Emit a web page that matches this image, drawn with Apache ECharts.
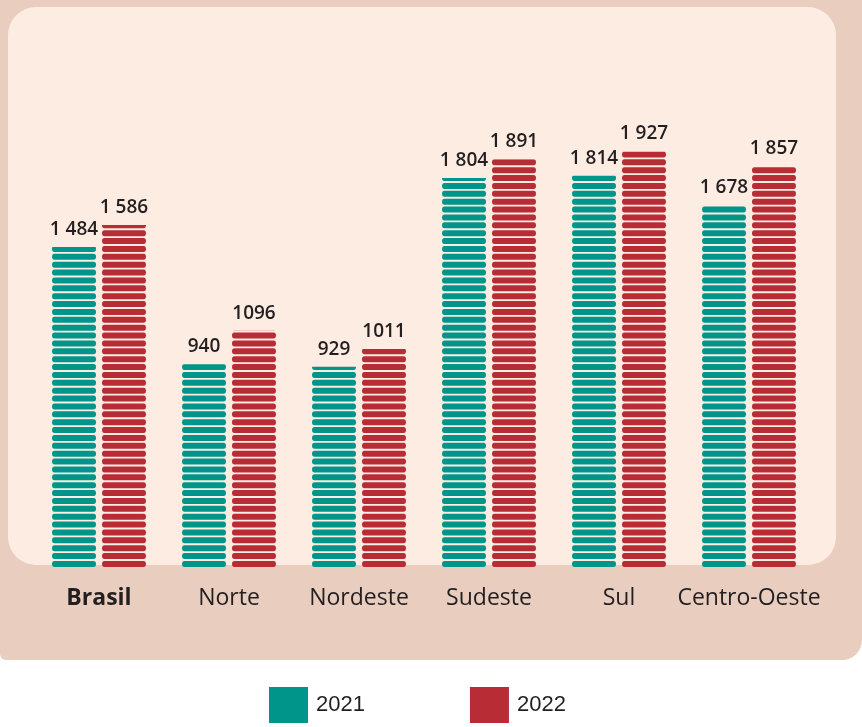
<!DOCTYPE html>
<html>
<head>
<meta charset="utf-8">
<style>
  html, body { margin: 0; padding: 0; background: #ffffff; }
  #chart { width: 862px; height: 727px; }
</style>
<script src="https://cdn.jsdelivr.net/npm/echarts@6/dist/echarts.min.js"></script>
</head>
<body>
<div id="chart"></div>
<script>
const categories = ['Brasil', 'Norte', 'Nordeste', 'Sudeste', 'Sul', 'Centro-Oeste'];
const seriesNames = ['2021', '2022'];
const values2021 = [1484, 940, 929, 1804, 1814, 1678];
const values2022 = [1586, 1096, 1011, 1891, 1927, 1857];
const labels2021 = ['1 484', '940', '929', '1 804', '1 814', '1 678'];
const labels2022 = ['1 586', '1096', '1011', '1 891', '1 927', '1 857'];

const TEAL = '#00958a';
const RED = '#b82c36';
const TEXT = '#231f20';

const chart = echarts.init(document.getElementById('chart'), null, { renderer: 'canvas' });

// stripe shape: 44 x 6 pill-ended rectangle (drawn 1:1, so corners stay round)
const STRIPE = 'path://M2.5,0 H41.5 A2.5,3 0 0 1 41.5,6 H2.5 A2.5,3 0 0 1 2.5,0 Z';

function stripeSeries(name, values, color) {
  return {
    name: name,
    type: 'pictorialBar',
    data: values,
    barWidth: 44,
    barGap: '13.6%',
    symbol: STRIPE,
    symbolSize: [44, 6],
    symbolRepeat: true,
    symbolMargin: 1,
    symbolClip: true,
    itemStyle: { color: color },
    z: 5
  };
}

// invisible companion bars carry the value labels at the exact bar tops
function labelSeries(name, values, labels) {
  return {
    name: name,
    type: 'bar',
    data: values,
    barWidth: 44,
    barGap: '13.6%',
    itemStyle: { color: 'rgba(0,0,0,0)' },
    silent: true,
    label: {
      show: true,
      position: 'top',
      distance: 8,
      color: TEXT,
      fontFamily: 'Open Sans',
      fontWeight: 600,
      fontSize: 19,
      formatter: function (p) { return labels[p.dataIndex]; }
    },
    z: 6
  };
}

chart.setOption({
  animation: false,
  backgroundColor: '#ffffff',
  graphic: [
    {
      type: 'rect', z: -20, silent: true,
      shape: { x: 0, y: 0, width: 862, height: 660, r: [0, 0, 20, 6] },
      style: { fill: '#e9cdbf' }
    },
    {
      type: 'rect', z: -10, silent: true,
      shape: { x: 8, y: 7, width: 828, height: 558, r: 28 },
      style: { fill: '#fdece2' }
    }
  ],
  legend: {
    data: seriesNames,
    left: 264,
    top: 682,
    itemWidth: 39,
    itemHeight: 36,
    itemGap: 105,
    icon: 'rect',
    textStyle: { fontFamily: 'Liberation Sans', fontSize: 22, color: TEXT, padding: [0, 0, 0, 3] }
  },
  grid: { left: 34, right: 48, top: 135.7, bottom: 160, containLabel: false },
  xAxis: {
    type: 'category',
    data: categories,
    axisLine: { show: false },
    axisTick: { show: false },
    axisLabel: {
      interval: 0,
      margin: 20,
      color: TEXT,
      fontFamily: 'Open Sans',
      fontSize: 23,
      formatter: function (v, i) { return i === 0 ? '{b|' + v + '}' : v; },
      rich: { b: { fontWeight: 'bold', fontFamily: 'Open Sans', fontSize: 23, color: TEXT } }
    }
  },
  yAxis: {
    type: 'value',
    min: 0,
    max: 2000,
    show: false,
    splitLine: { show: false }
  },
  series: [
    stripeSeries(seriesNames[0], values2021, TEAL),
    stripeSeries(seriesNames[1], values2022, RED),
    labelSeries('lbl-2021', values2021, labels2021),
    labelSeries('lbl-2022', values2022, labels2022)
  ]
});
</script>
</body>
</html>
